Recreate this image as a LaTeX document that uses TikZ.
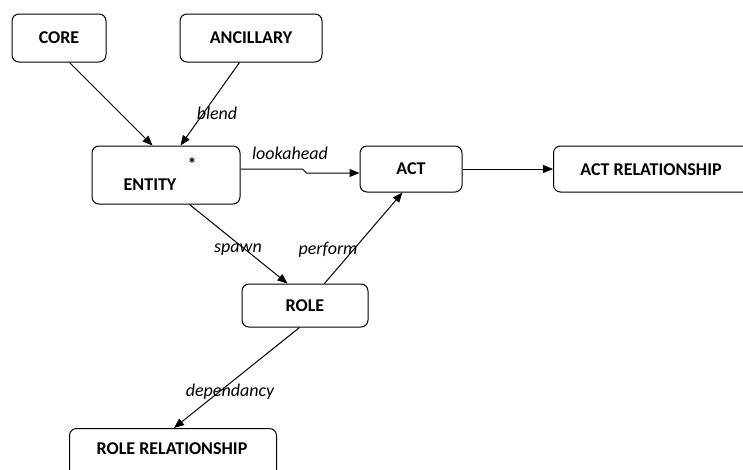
\documentclass[tikz,border=0pt]{standalone}
\usepackage{fontspec}
\setmainfont{Carlito}
\usetikzlibrary{arrows.meta}
\begin{document}
\begin{tikzpicture}[x=1pt,y=-1pt,
  box/.style={draw=black,line width=1pt,rounded corners=7pt,font=\fontsize{18}{20}\selectfont\bfseries,inner sep=0pt},
  btext/.style={font=\fontsize{18}{20}\selectfont\bfseries,inner sep=0pt},
  conn/.style={draw=black,line width=1pt,-{Triangle[length=10pt,width=8pt]}},
  lbl/.style={font=\fontsize{18}{20}\selectfont\itshape,inner sep=1pt}]
\useasboundingbox (0,0) rectangle (743,469);
\node[box,minimum width=94pt,minimum height=48pt] (core) at (59,38) {CORE};
\node[box,minimum width=142pt,minimum height=48pt] (anc) at (251,38) {ANCILLARY};
\node[box,minimum width=148pt,minimum height=58pt] (entity) at (166,175) {};
\node[btext] (entt) at (150,185) {ENTITY};
\node[btext] (ast) at (192,164) {*};
\node[box,minimum width=102pt,minimum height=46pt] (act) at (411,169) {ACT};
\node[box,minimum width=200pt,minimum height=46pt,anchor=west] (actrel) at (553,169) {};
\node[btext] (actrelt) at (651,170) {ACT RELATIONSHIP};
\node[box,minimum width=126pt,minimum height=43pt] (role) at (305,305.5) {ROLE};
\node[box,minimum width=207pt,minimum height=60pt,anchor=north west] (rolerel) at (69,428) {};
\node[btext] (rolerelt) at (172,449) {ROLE RELATIONSHIP};

\draw[conn] ([xshift=58pt]core.south west) -- ([xshift=61pt]entity.north west);
\draw[conn] ([xshift=60pt]anc.south west) -- ([xshift=89pt]entity.north west);
\draw[conn] ([yshift=6pt]entity.east) -- ++(62,0) -- ++(4,4) -- ([yshift=-4pt]act.west);
\draw[conn] (act.east) -- (actrel.west);
\draw[conn] ([xshift=98pt]entity.south west) -- ([xshift=46pt]role.north west);
\draw[conn] ([xshift=83pt]role.north west) -- ([xshift=43pt]act.south west);
\draw[conn] ([xshift=58pt]role.south west) -- ([xshift=105pt]rolerel.north west);

\node[lbl] (l1) at (217,113) {blend};
\node[lbl] (l2) at (290,153) {lookahead};
\node[lbl] (l3) at (238,250) {spawn};
\node[lbl] (l4) at (328,250) {perform};
\node[lbl] (l5) at (230,392) {dependancy};
\end{tikzpicture}
\end{document}
